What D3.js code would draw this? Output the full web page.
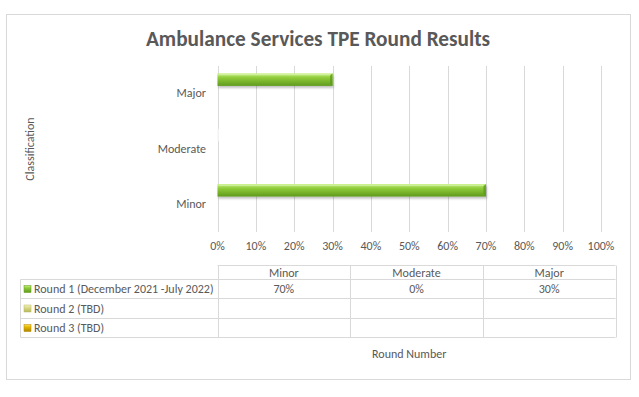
<!DOCTYPE html>
<html>
<head>
<meta charset="utf-8">
<script src="https://cdn.jsdelivr.net/npm/d3@7"></script>
<style>
  body { margin: 0; background: #fff; }
  text { font-family: Carlito, Lato, "Liberation Sans", sans-serif; fill: #595959; }
</style>
</head>
<body>
<script>
// chart values
var categories = ["Minor", "Moderate", "Major"];
var seriesNames = ["Round 1 (December 2021 -July 2022)", "Round 2 (TBD)", "Round 3 (TBD)"];
var round1 = [0.70, 0.00, 0.30];
var round2 = [null, null, null];
var round3 = [null, null, null];
var xTicks = [0, 0.1, 0.2, 0.3, 0.4, 0.5, 0.6, 0.7, 0.8, 0.9, 1.0];

var seriesValues = [round1, round2, round3];
var seriesColors = [
  ["#c4f27a", "#8fcb3a", "#5f9a1c"],
  ["#f4f4c4", "#dcdc8c", "#b8b860"],
  ["#ffe15a", "#e6b800", "#b08600"]
];

var width = 639, height = 397;

var svg = d3.select("body")
    .append("svg")
    .attr("width", width)
    .attr("height", height);

var defs = svg.append("defs");

seriesColors.forEach(function (c, i) {
  var g = defs.append("linearGradient")
      .attr("id", "grad" + i)
      .attr("x1", 0).attr("y1", 0).attr("x2", 0).attr("y2", 1);
  g.append("stop").attr("offset", "0%").attr("stop-color", c[0]);
  g.append("stop").attr("offset", "35%").attr("stop-color", c[1]);
  g.append("stop").attr("offset", "100%").attr("stop-color", c[2]);
});

var shadow = defs.append("filter").attr("id", "shadow")
    .attr("x", "-10%").attr("y", "-30%").attr("width", "130%").attr("height", "190%");
shadow.append("feDropShadow")
    .attr("dx", 1).attr("dy", 2).attr("stdDeviation", 1.2)
    .attr("flood-color", "#000").attr("flood-opacity", 0.25);

// outer border
svg.append("rect")
    .attr("x", 6.5).attr("y", 14.5)
    .attr("width", 624).attr("height", 365)
    .attr("fill", "#fff")
    .attr("stroke", "#d9d9d9");

// title
svg.append("text")
    .attr("x", 318).attr("y", 46)
    .attr("text-anchor", "middle")
    .style("font-size", "21.3px")
    .style("font-weight", "bold")
    .text("Ambulance Services TPE Round Results");

var plotLeft = 217.5, plotRight = 601, plotTop = 66, plotBottom = 232;

var x = d3.scaleLinear().domain([0, 1]).range([plotLeft, plotRight]);
var y = d3.scaleBand()
    .domain(categories.slice().reverse())
    .range([64.5, 230.5])
    .paddingInner(0.32)
    .paddingOuter(0.16);
var ySub = d3.scaleBand()
    .domain(seriesNames)
    .range([0, y.bandwidth()]);

// gridlines
svg.append("g")
    .selectAll("line")
    .data(xTicks)
    .join("line")
    .attr("x1", function (d) { return Math.round(x(d)) + 0.5; })
    .attr("x2", function (d) { return Math.round(x(d)) + 0.5; })
    .attr("y1", plotTop)
    .attr("y2", plotBottom)
    .attr("stroke", "#d9d9d9");

// x axis labels
svg.append("g")
    .selectAll("text")
    .data(xTicks)
    .join("text")
    .attr("x", function (d) { return x(d); })
    .attr("y", 250)
    .attr("text-anchor", "middle")
    .style("font-size", "12px")
    .text(d3.format(".0%"));

// category labels
svg.append("g")
    .selectAll("text")
    .data(categories)
    .join("text")
    .attr("x", 206)
    .attr("y", function (d) { return y(d) + y.bandwidth() / 2 + 1; })
    .attr("dy", "0.35em")
    .attr("text-anchor", "end")
    .style("font-size", "12px")
    .text(function (d) { return d; });

// bars
seriesValues.forEach(function (vals, si) {
  var g = svg.append("g");
  var data = categories.map(function (c, ci) { return { cat: c, v: vals[ci] }; })
      .filter(function (d) { return d.v !== null; });

  g.selectAll("rect.bar")
      .data(data)
      .join("rect")
      .attr("class", "bar")
      .attr("x", x(0))
      .attr("y", function (d) { return y(d.cat) + ySub(seriesNames[si]); })
      .attr("width", function (d) { return Math.max(x(d.v) - x(0), 1.5); })
      .attr("height", ySub.bandwidth())
      .attr("fill", function (d) { return d.v > 0 ? "url(#grad" + si + ")" : "#f2f2f2"; })
      .attr("filter", function (d) { return d.v > 0 ? "url(#shadow)" : null; });

  // bevel: darker right end
  g.selectAll("path.end")
      .data(data.filter(function (d) { return d.v > 0; }))
      .join("path")
      .attr("class", "end")
      .attr("d", function (d) {
        var x1 = x(d.v), y0 = y(d.cat) + ySub(seriesNames[si]), h = ySub.bandwidth();
        return "M" + x1 + "," + y0 + "L" + (x1 - 2.5) + "," + (y0 + 2.5) +
               "L" + (x1 - 2.5) + "," + (y0 + h - 2.5) + "L" + x1 + "," + (y0 + h) + "Z";
      })
      .attr("fill", seriesColors[si][2])
      .attr("opacity", 0.8);

  // bevel: top highlight
  g.selectAll("rect.hi")
      .data(data.filter(function (d) { return d.v > 0; }))
      .join("rect")
      .attr("class", "hi")
      .attr("x", x(0) + 1)
      .attr("y", function (d) { return y(d.cat) + ySub(seriesNames[si]) + 0.5; })
      .attr("width", function (d) { return x(d.v) - x(0) - 3.5; })
      .attr("height", 1.5)
      .attr("fill", "#ffffff")
      .attr("opacity", 0.35);
});

// axis titles
svg.append("text")
    .attr("transform", "translate(34," + ((plotTop + plotBottom) / 2) + ") rotate(-90)")
    .attr("text-anchor", "middle")
    .style("font-size", "12px")
    .text("Classification");

svg.append("text")
    .attr("x", (plotLeft + plotRight) / 2)
    .attr("y", 358)
    .attr("text-anchor", "middle")
    .style("font-size", "12px")
    .text("Round Number");

// data table
var tableLeft = 20.5, colLeft = 217.5, tableRight = 615.5;
var col = d3.scaleBand().domain(categories).range([colLeft, tableRight]);
var rowTops = [265.5, 279.5, 298.5, 318.5, 337.5];
var tbl = svg.append("g").attr("stroke", "#d9d9d9").attr("fill", "none");

tbl.append("line")
    .attr("x1", colLeft).attr("x2", tableRight)
    .attr("y1", rowTops[0]).attr("y2", rowTops[0]);
tbl.selectAll("line.h")
    .data(rowTops.slice(1))
    .join("line")
    .attr("class", "h")
    .attr("x1", tableLeft).attr("x2", tableRight)
    .attr("y1", function (d) { return d; })
    .attr("y2", function (d) { return d; });
tbl.append("line")
    .attr("x1", tableLeft).attr("x2", tableLeft)
    .attr("y1", rowTops[1]).attr("y2", rowTops[4]);
tbl.selectAll("line.v")
    .data(categories.map(function (c) { return col(c); }).concat([tableRight]))
    .join("line")
    .attr("class", "v")
    .attr("x1", function (d) { return Math.round(d) + 0.5; })
    .attr("x2", function (d) { return Math.round(d) + 0.5; })
    .attr("y1", rowTops[0]).attr("y2", rowTops[4]);

// header
svg.append("g")
    .selectAll("text")
    .data(categories)
    .join("text")
    .attr("x", function (d) { return col(d) + col.bandwidth() / 2; })
    .attr("y", (rowTops[0] + rowTops[1]) / 2)
    .attr("dy", "0.35em")
    .attr("text-anchor", "middle")
    .style("font-size", "12px")
    .text(function (d) { return d; });

// rows
seriesNames.forEach(function (name, si) {
  var cy = (rowTops[si + 1] + rowTops[si + 2]) / 2;
  svg.append("rect")
      .attr("x", 24).attr("y", cy - 3.5)
      .attr("width", 7).attr("height", 7)
      .attr("fill", "url(#grad" + si + ")")
      .attr("stroke", seriesColors[si][2])
      .attr("stroke-width", 0.5);
  svg.append("text")
      .attr("x", 34).attr("y", cy)
      .attr("dy", "0.35em")
      .style("font-size", "12px")
      .text(name);
  svg.append("g")
      .selectAll("text")
      .data(seriesValues[si].map(function (v, ci) { return { cat: categories[ci], v: v }; })
            .filter(function (d) { return d.v !== null; }))
      .join("text")
      .attr("x", function (d) { return col(d.cat) + col.bandwidth() / 2; })
      .attr("y", cy)
      .attr("dy", "0.35em")
      .attr("text-anchor", "middle")
      .style("font-size", "12px")
      .text(function (d) { return d3.format(".0%")(d.v); });
});
</script>
</body>
</html>
